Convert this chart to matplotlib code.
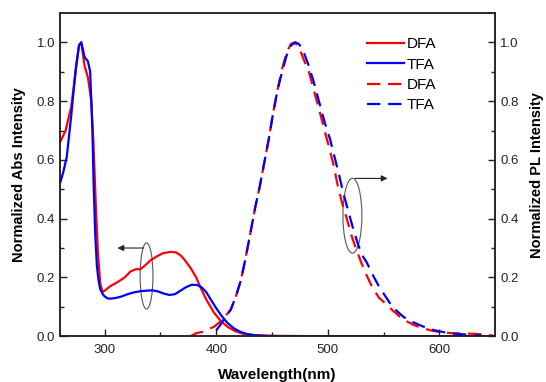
import matplotlib
matplotlib.use('agg')
import matplotlib.pyplot as plt
from matplotlib.patches import Ellipse

plt.rcParams['font.family'] = ['Liberation Sans', 'DejaVu Sans']

# absorption spectra
abs_dfa_x = [260, 265, 270, 274, 277, 279, 282, 285, 288, 290, 292, 294, 296, 298, 300, 305, 312, 318,
             323, 328, 332, 336, 341, 346, 352, 359, 364, 368, 372, 377, 382, 386, 391, 398, 404, 410,
             417, 425, 435, 450, 500, 550, 600, 650]
abs_dfa_y = [0.66, 0.70, 0.78, 0.90, 0.99, 1.0, 0.92, 0.88, 0.80, 0.65, 0.45, 0.28, 0.18, 0.15, 0.155,
             0.17, 0.185, 0.20, 0.22, 0.228, 0.228, 0.24, 0.258, 0.27, 0.282, 0.287, 0.285, 0.275,
             0.258, 0.232, 0.20, 0.165, 0.125, 0.08, 0.052, 0.032, 0.017, 0.007, 0.003, 0.001, 0, 0, 0, 0]

abs_tfa_x = [260, 263, 266, 270, 274, 277, 279, 282, 285, 287, 289, 290, 291.5, 293, 294.5, 296, 298,
             300, 303, 306, 310, 315, 320, 325, 332, 338, 343, 348, 353, 358, 363, 368, 373, 378, 383,
             387, 391, 395, 400, 405, 410, 416, 422, 428, 435, 445, 460, 500, 550, 600, 650]
abs_tfa_y = [0.52, 0.56, 0.61, 0.75, 0.91, 0.99, 1.0, 0.95, 0.935, 0.90, 0.70, 0.53, 0.35, 0.24, 0.19,
             0.16, 0.145, 0.135, 0.128, 0.128, 0.13, 0.135, 0.142, 0.148, 0.153, 0.155, 0.156, 0.152,
             0.145, 0.14, 0.143, 0.155, 0.167, 0.175, 0.174, 0.166, 0.15, 0.125, 0.095, 0.068, 0.045,
             0.026, 0.014, 0.007, 0.003, 0.001, 0, 0, 0, 0, 0]

# PL spectra
pl_dfa_x = [377, 382, 388, 392, 398, 404, 408, 413, 418, 422, 426, 431, 435, 439, 443, 447, 451, 455,
            459, 463, 467, 470, 474, 478, 483, 488, 493, 497, 501, 505, 509, 513, 517, 521, 525, 530,
            535, 540, 546, 552, 558, 564, 570, 577, 585, 593, 602, 612, 622, 632, 642, 648]
pl_dfa_y = [0.0, 0.01, 0.015, 0.022, 0.032, 0.05, 0.068, 0.09, 0.14, 0.19, 0.26, 0.36, 0.44, 0.51, 0.59,
            0.67, 0.76, 0.84, 0.91, 0.965, 0.995, 1.0, 0.985, 0.945, 0.90, 0.83, 0.76, 0.70, 0.645,
            0.585, 0.51, 0.45, 0.40, 0.345, 0.30, 0.25, 0.205, 0.165, 0.13, 0.11, 0.088, 0.068, 0.052,
            0.038, 0.027, 0.019, 0.013, 0.01, 0.009, 0.008, 0.005, 0.002]

pl_tfa_x = [400, 404, 408, 413, 418, 422, 426, 431, 435, 439, 443, 447, 451, 455, 459, 463, 467, 471,
            474, 478, 482, 487, 492, 497, 502, 506, 510, 514, 518, 522, 526, 530, 535, 540, 545, 550,
            556, 562, 568, 575, 582, 590, 598, 606, 614, 622, 630, 638]
pl_tfa_y = [0.02, 0.04, 0.065, 0.09, 0.14, 0.19, 0.26, 0.36, 0.44, 0.51, 0.59, 0.67, 0.76, 0.84, 0.90,
            0.955, 0.99, 1.0, 0.995, 0.97, 0.93, 0.87, 0.80, 0.73, 0.67, 0.61, 0.55, 0.485, 0.43, 0.375,
            0.325, 0.28, 0.25, 0.21, 0.175, 0.145, 0.11, 0.085, 0.065, 0.05, 0.038, 0.026, 0.018,
            0.012, 0.008, 0.006, 0.004, 0.002]

fig = plt.figure(figsize=(5.46, 3.82), dpi=100)
ax = fig.add_axes([0.110, 0.120, 0.797, 0.846])
ax2 = ax.twinx()

dash = (0, (6, 3.5))
ax.plot(abs_dfa_x, abs_dfa_y, color='red', lw=1.6, label='DFA')
ax.plot(abs_tfa_x, abs_tfa_y, color='blue', lw=1.6, label='TFA')
ax.plot(pl_dfa_x, pl_dfa_y, color='red', lw=1.6, ls=dash, label='DFA')
ax.plot(pl_tfa_x, pl_tfa_y, color='blue', lw=1.6, ls=dash, label='TFA')

ax.set_xlim(260, 650)
ax.set_ylim(0, 1.1)
ax2.set_ylim(0, 1.1)
ax.set_xticks([300, 400, 500, 600])
ax.set_xticks([350, 450, 550], minor=True)
for a in (ax, ax2):
    a.set_yticks([0.0, 0.2, 0.4, 0.6, 0.8, 1.0])
    a.set_yticks([0.1, 0.3, 0.5, 0.7, 0.9], minor=True)
    a.set_yticklabels(['0.0', '0.2', '0.4', '0.6', '0.8', '1.0'])
    a.tick_params(which='both', direction='in', labelsize=9.5, colors='#222222', width=1)
    a.tick_params(which='major', length=5)
    a.tick_params(which='minor', length=3)
    for s in a.spines.values():
        s.set_linewidth(1.1)
        s.set_color('#222222')
ax.tick_params(axis='x', pad=6)

ax.set_xlabel('Wavelength(nm)', fontsize=11, fontweight='bold', labelpad=8)
ax.set_ylabel('Normalized Abs Intensity', fontsize=10.5, fontweight='bold', labelpad=8)
ax2.set_ylabel('Normalized PL Intensity', fontsize=10.5, fontweight='bold', labelpad=8)

# ellipses with arrows
ax.add_patch(Ellipse((337.5, 0.205), 11.5, 0.225, fill=False, ec='#555555', lw=0.8))
ax.annotate('', xy=(309, 0.30), xytext=(337.5, 0.30),
            arrowprops=dict(arrowstyle='-|>', color='#222222', lw=0.8, mutation_scale=9))
ax.add_patch(Ellipse((522, 0.41), 17, 0.255, fill=False, ec='#555555', lw=0.8))
ax.annotate('', xy=(556, 0.537), xytext=(522, 0.537),
            arrowprops=dict(arrowstyle='-|>', color='#222222', lw=0.8, mutation_scale=9))

ax.legend(loc='upper left', bbox_to_anchor=(0.705, 0.925), frameon=False, fontsize=11,
          handlelength=2.4, handletextpad=0.2, labelspacing=0.42, borderpad=0, borderaxespad=0)

fig.savefig('out.png', dpi=100)
